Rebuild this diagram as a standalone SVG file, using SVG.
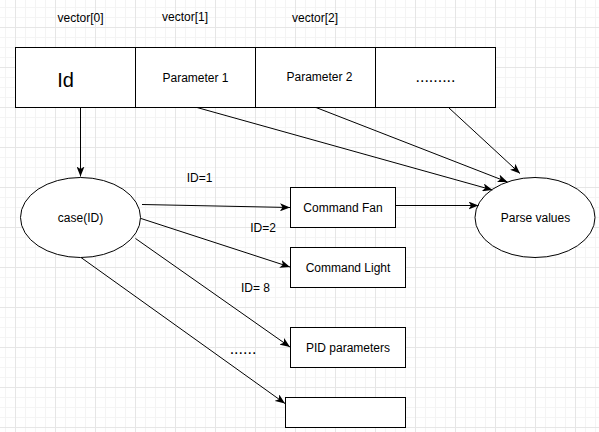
<svg xmlns="http://www.w3.org/2000/svg" width="599" height="432" viewBox="0 0 599 432">
<style>
.t{font-family:"Liberation Sans",Arial,sans-serif;font-size:12px;fill:#000;text-anchor:middle}
.big{font-size:20px}
.dots{font-size:16px}
.box{fill:#fff;stroke:#000;stroke-width:1}
.edge{fill:none;stroke:#000;stroke-width:1}
</style>
<defs>
<pattern id="minor" width="10" height="10" patternUnits="userSpaceOnUse" x="5" y="7"><path d="M0.5 0V10M0 0.5H10" stroke="#f4f4f4" stroke-width="1" fill="none"/></pattern>
<pattern id="major" width="40" height="40" patternUnits="userSpaceOnUse" x="15" y="27"><path d="M0.5 0V40M0 0.5H40" stroke="#e6e6e6" stroke-width="1" fill="none"/></pattern>
<marker id="arr" markerUnits="userSpaceOnUse" viewBox="0 0 10 8" refX="10" refY="4" markerWidth="10" markerHeight="8" orient="auto"><path d="M0,0 L10,4 L0,8 L2.5,4 Z" fill="#000"/></marker>
</defs>
<rect width="599" height="432" fill="#fff"/>
<rect width="599" height="432" fill="url(#minor)"/>
<rect width="599" height="432" fill="url(#major)"/>

<text class="t" x="80.5" y="22">vector[0]</text>
<text class="t" x="185" y="20.5">vector[1]</text>
<text class="t" x="315" y="22">vector[2]</text>

<g id="vector">
<g id="cell-id"><rect class="box" x="15.5" y="47.5" width="120" height="60"/><text class="t big" x="65.5" y="86.5">Id</text></g>
<g id="cell-param1"><rect class="box" x="135.5" y="47.5" width="120" height="60"/><text class="t" x="195.5" y="81.5">Parameter 1</text></g>
<g id="cell-param2"><rect class="box" x="255.5" y="47.5" width="120" height="60"/><text class="t" x="319.5" y="80.5">Parameter 2</text></g>
<g id="cell-more"><rect class="box" x="375.5" y="47.5" width="120" height="60"/><text class="t dots" x="435.5" y="82">.........</text></g>
</g>

<g id="case"><ellipse class="box" cx="80.5" cy="217.5" rx="60" ry="40"/><text class="t" x="80.5" y="221.5">case(ID)</text></g>
<g id="parse"><ellipse class="box" cx="535" cy="217.5" rx="60" ry="40"/><text class="t" x="535.5" y="221.5">Parse values</text></g>
<g id="fan"><rect class="box" x="290.5" y="187.5" width="105" height="40"/><text class="t" x="343" y="212">Command Fan</text></g>
<g id="light"><rect class="box" x="290.5" y="247.5" width="115" height="40"/><text class="t" x="348" y="272">Command Light</text></g>
<g id="pid"><rect class="box" x="290.5" y="327.5" width="115" height="40"/><text class="t" x="348" y="351.5">PID parameters</text></g>
<g id="empty"><rect class="box" x="285.5" y="397.5" width="120" height="30"/></g>

<g id="connectors">
<path class="edge" marker-end="url(#arr)" d="M80.5,107.5 L80.5,176.5"/>
<path class="edge" marker-end="url(#arr)" d="M142,204.5 L290,207.5"/>
<path class="edge" marker-end="url(#arr)" d="M141,218.5 L290,267"/>
<path class="edge" marker-end="url(#arr)" d="M135.5,238.5 L290,347"/>
<path class="edge" marker-end="url(#arr)" d="M81,257.5 L285,403.5"/>
<path class="edge" marker-end="url(#arr)" d="M395.5,205.5 L478.5,205.5"/>
<path class="edge" marker-end="url(#arr)" d="M197,107.5 L492.5,190"/>
<path class="edge" marker-end="url(#arr)" d="M316,107.5 L507.5,182"/>
<path class="edge" marker-end="url(#arr)" d="M448.5,107.5 L520,173.5"/>
<text class="t" x="199.5" y="182">ID=1</text>
<text class="t" x="263" y="232">ID=2</text>
<text class="t" x="255.5" y="291.5">ID= 8</text>
<text class="t dots" x="243" y="354">......</text>
</g>
</svg>
